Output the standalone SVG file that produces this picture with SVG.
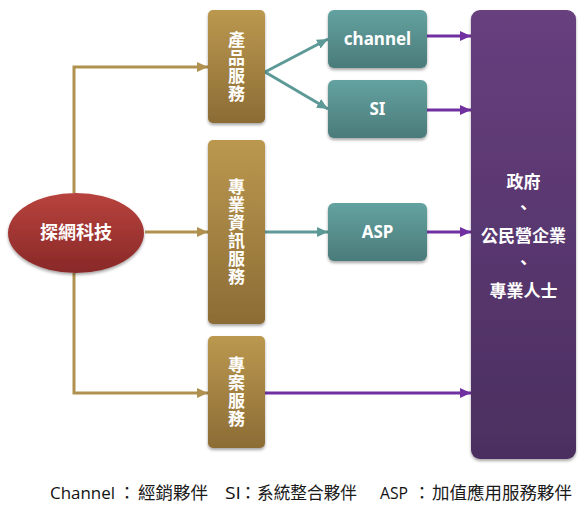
<svg xmlns="http://www.w3.org/2000/svg" width="588" height="520" viewBox="0 0 588 520">
<defs>
<linearGradient id="gGold" x1="0" y1="0" x2="0" y2="1"><stop offset="0" stop-color="#bb984f"/><stop offset="1" stop-color="#8c6c35"/></linearGradient>
<linearGradient id="gTeal" x1="0" y1="0" x2="0" y2="1"><stop offset="0" stop-color="#63a2a0"/><stop offset="1" stop-color="#4a7b7a"/></linearGradient>
<linearGradient id="gPurple" x1="0" y1="0" x2="0" y2="1"><stop offset="0" stop-color="#673f7e"/><stop offset="1" stop-color="#4b2f60"/></linearGradient>
<linearGradient id="gRed" x1="0" y1="0" x2="0" y2="1"><stop offset="0" stop-color="#b8433d"/><stop offset="1" stop-color="#892828"/></linearGradient>
<filter id="sh" x="-20%" y="-20%" width="140%" height="140%"><feDropShadow dx="0" dy="2" stdDeviation="1.5" flood-color="#000" flood-opacity="0.35"/></filter>
<marker id="aGold" markerUnits="userSpaceOnUse" markerWidth="12" markerHeight="12" refX="11" refY="6" orient="auto"><path d="M0,1 L11,6 L0,11 Z" fill="#b0914f"/></marker>
<marker id="aTeal" markerUnits="userSpaceOnUse" markerWidth="12" markerHeight="12" refX="11" refY="6" orient="auto"><path d="M0,1 L11,6 L0,11 Z" fill="#5d9997"/></marker>
<marker id="aPurple" markerUnits="userSpaceOnUse" markerWidth="12" markerHeight="12" refX="11" refY="6" orient="auto"><path d="M0,1 L11,6 L0,11 Z" fill="#7030a0"/></marker>
<style>
.gold{fill:url(#gGold);filter:url(#sh)}
.teal{fill:url(#gTeal);filter:url(#sh)}
.purple{fill:url(#gPurple);filter:url(#sh)}
.t{font-family:"Noto Sans CJK TC","Noto Sans",sans-serif;font-weight:bold;fill:#fff;text-anchor:middle;dominant-baseline:central}
.v{font-size:17px}
.vt{font-family:"Noto Sans CJK TC","Noto Sans",sans-serif;font-weight:bold;fill:#fff;text-anchor:middle;font-size:17px;writing-mode:vertical-rl;text-orientation:upright;letter-spacing:1px}
.l{font-family:"Noto Sans","Noto Sans CJK TC",sans-serif;font-weight:bold;fill:#fff;text-anchor:middle;dominant-baseline:central;font-size:17px}
.cg{fill:none;stroke:#b0914f;stroke-width:3;marker-end:url(#aGold)}
.ct{fill:none;stroke:#5d9997;stroke-width:3;marker-end:url(#aTeal)}
.cp{fill:none;stroke:#7030a0;stroke-width:3;marker-end:url(#aPurple)}
.f{font-family:"Noto Sans CJK TC","Noto Sans",sans-serif;font-size:17px;fill:#1a1a1a}
.fl{font-family:"Open Sans","Noto Sans",sans-serif;font-size:17px;fill:#111}
</style>
</defs>
<rect width="588" height="520" fill="#fff"/>

<g id="connectors">
<path class="cg" d="M74,193 V67 H208"/>
<path class="cg" d="M145,232 H208"/>
<path class="cg" d="M74,273 V393 H208"/>
<path class="ct" d="M265,72 L328,39"/>
<path class="ct" d="M265,72 L328,109"/>
<path class="ct" d="M265,232 H328"/>
<path class="cp" d="M427,36 H471"/>
<path class="cp" d="M427,110 H471"/>
<path class="cp" d="M427,232 H471"/>
<path class="cp" d="M265,393 H471"/>
</g>

<g id="n-tanwang">
<ellipse cx="76" cy="233" rx="68" ry="40" fill="url(#gRed)" filter="url(#sh)"/>
<text class="t" x="76" y="231" font-size="18">探網科技</text>
</g>

<g id="n-product">
<rect class="gold" x="208" y="10" width="57" height="113" rx="5"/>
<text class="vt" x="236.5" y="67.5">產品服務</text>
</g>

<g id="n-info">
<rect class="gold" x="208" y="140" width="57" height="184" rx="5"/>
<text class="vt" x="236.5" y="232.5">專業資訊服務</text>
</g>

<g id="n-project">
<rect class="gold" x="208" y="336" width="57" height="112" rx="5"/>
<text class="vt" x="236.5" y="392.5">專案服務</text>
</g>

<g id="n-channel">
<rect class="teal" x="328" y="10" width="99" height="58" rx="6"/>
<text class="l" x="377.5" y="38">channel</text>
</g>

<g id="n-si">
<rect class="teal" x="328" y="80" width="99" height="58" rx="6"/>
<text class="l" x="377.5" y="108">SI</text>
</g>

<g id="n-asp">
<rect class="teal" x="328" y="203" width="99" height="58" rx="6"/>
<text class="l" x="377.5" y="231">ASP</text>
</g>

<g id="n-customers">
<rect class="purple" x="471" y="10" width="105" height="449" rx="9"/>
<text class="t v" x="523.5"><tspan x="523.5" y="180">政府</tspan><tspan x="523.5" y="206">、</tspan><tspan x="523.5" y="234">公民營企業</tspan><tspan x="523.5" y="261">、</tspan><tspan x="523.5" y="289">專業人士</tspan></text>
</g>

<g id="legend">
<text class="fl" x="50" y="499" textLength="65" lengthAdjust="spacingAndGlyphs">Channel</text>
<text class="f" x="127" y="499" text-anchor="middle">：</text>
<text class="f" x="138" y="499" textLength="70" lengthAdjust="spacingAndGlyphs">經銷夥伴</text>
<text class="fl" x="225" y="499" textLength="16" lengthAdjust="spacingAndGlyphs">SI</text>
<text class="f" x="248" y="499" text-anchor="middle">：</text>
<text class="f" x="257" y="499" textLength="100" lengthAdjust="spacingAndGlyphs">系統整合夥伴</text>
<text class="fl" x="380" y="499" textLength="28" lengthAdjust="spacingAndGlyphs">ASP</text>
<text class="f" x="422" y="499" text-anchor="middle">：</text>
<text class="f" x="432" y="499" textLength="140" lengthAdjust="spacingAndGlyphs">加值應用服務夥伴</text>
</g>
</svg>
